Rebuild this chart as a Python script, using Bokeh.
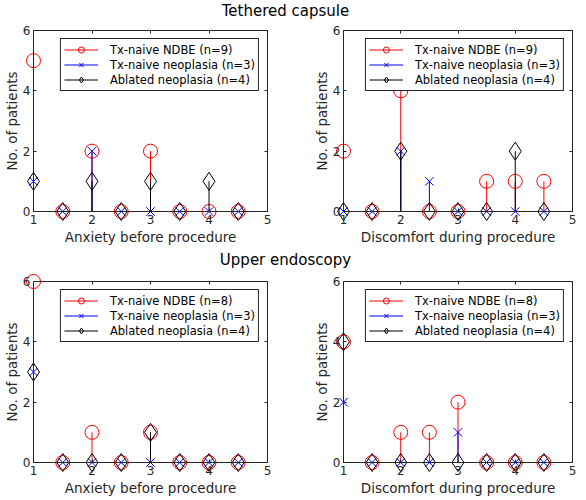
from bokeh.plotting import figure
from bokeh.models import Range1d, LinearAxis, Legend, LegendItem, FixedTicker, Label
from bokeh.layouts import column, row
from bokeh.embed import file_html
from bokeh.resources import INLINE

# ---------------- data ----------------
scores = [1, 1.5, 2, 2.5, 3, 3.5, 4, 4.5]
x_ticks = [1, 2, 3, 4, 5]
y_ticks = [0, 2, 4, 6]

section_titles = ["Tethered capsule", "Upper endoscopy"]
x_labels = ["Anxiety before procedure", "Discomfort during procedure"]
y_label = "No. of patients"

names_capsule = ["Tx-naive NDBE (n=9)", "Tx-naive neoplasia (n=3)", "Ablated neoplasia (n=4)"]
names_endoscopy = ["Tx-naive NDBE (n=8)", "Tx-naive neoplasia (n=3)", "Ablated neoplasia (n=4)"]

capsule_anxiety_ndbe = [5, 0, 2, 0, 2, 0, 0, 0]
capsule_anxiety_neo = [1, 0, 2, 0, 0, 0, 0, 0]
capsule_anxiety_abl = [1, 0, 1, 0, 1, 0, 1, 0]

capsule_discomfort_ndbe = [2, 0, 4, 0, 0, 1, 1, 1]
capsule_discomfort_neo = [0, 0, 2, 1, 0, 0, 0, 0]
capsule_discomfort_abl = [0, 0, 2, 0, 0, 0, 2, 0]

endo_anxiety_ndbe = [6, 0, 1, 0, 1, 0, 0, 0]
endo_anxiety_neo = [3, 0, 0, 0, 0, 0, 0, 0]
endo_anxiety_abl = [3, 0, 0, 0, 1, 0, 0, 0]

endo_discomfort_ndbe = [4, 0, 1, 1, 2, 0, 0, 0]
endo_discomfort_neo = [2, 0, 0, 0, 1, 0, 0, 0]
endo_discomfort_abl = [4, 0, 0, 0, 0, 0, 0, 0]

# ---------------- styles ----------------
FONT = "DejaVu Sans"
AX = "#262626"
series_style = [
    dict(color="#ff0000", marker="circle", size=14),
    dict(color="#0000ff", marker="x", size=12),
    dict(color="#000000", marker="diamond", size=18),
]


def panel(xlabel, names, series, b_left, b_right, b_top, b_bottom, fw):
    p = figure(frame_width=fw, frame_height=181,
               x_range=Range1d(1, 5), y_range=Range1d(0, 6),
               output_backend="svg", toolbar_location=None,
               min_border_left=b_left, min_border_right=b_right,
               min_border_top=b_top, min_border_bottom=b_bottom,
               background_fill_color="white", border_fill_color="white")
    p.xgrid.visible = False
    p.ygrid.visible = False
    p.outline_line_color = AX
    p.outline_line_alpha = 1
    p.outline_line_width = 1

    p.xaxis.ticker = FixedTicker(ticks=x_ticks)
    p.yaxis.ticker = FixedTicker(ticks=y_ticks)
    p.xaxis.axis_label = xlabel
    p.yaxis.axis_label = y_label
    for ax in (p.xaxis, p.yaxis):
        ax.axis_line_color = AX
        ax.major_tick_line_color = AX
        ax.major_tick_in = 3
        ax.major_tick_out = 0
        ax.minor_tick_line_color = None
        ax.major_label_text_font = FONT
        ax.major_label_text_font_size = "12px"
        ax.major_label_text_color = AX
        ax.axis_label_text_font = FONT
        ax.axis_label_text_font_size = "13.5px"
        ax.axis_label_text_font_style = "normal"
        ax.axis_label_text_color = AX
    p.xaxis.major_label_standoff = 3
    p.xaxis.axis_label_standoff = 2
    p.yaxis.major_label_standoff = 3
    p.yaxis.axis_label_standoff = 0

    for loc, tk in (("right", y_ticks), ("above", x_ticks)):
        a = LinearAxis(ticker=FixedTicker(ticks=tk), major_label_text_font_size="1px",
                       major_label_text_color=None,
                       major_label_standoff=0, major_tick_in=3, major_tick_out=0,
                       minor_tick_line_color=None, axis_line_color=AX,
                       major_tick_line_color=AX)
        p.add_layout(a, loc)

    items = []
    zeros = [0] * len(scores)
    for name, vals, st in zip(names, series, series_style):
        seg = p.segment(x0=scores, y0=zeros, x1=scores, y1=vals,
                        line_color=st["color"], line_width=1, level="guide")
        sc = p.scatter(x=scores, y=vals, marker=st["marker"], size=st["size"],
                       line_color=st["color"], fill_color=None, line_width=1,
                       level="guide")
        items.append(LegendItem(label=name, renderers=[seg, sc]))

    legend = Legend(items=items, location="top_right", margin=8, padding=3,
                    spacing=0, glyph_width=34, glyph_height=15, label_height=15,
                    label_standoff=12, label_text_font=FONT,
                    label_text_font_size="11.5px", label_text_color="black",
                    label_text_baseline="middle",
                    border_line_color=AX, border_line_alpha=1,
                    background_fill_color="white", background_fill_alpha=1)
    p.add_layout(legend)
    return p


def title_fig(text, h):
    f = figure(width=570, height=h, x_range=Range1d(0, 1), y_range=Range1d(0, 1),
               x_axis_type=None, y_axis_type=None, toolbar_location=None,
               output_backend="svg", min_border=0, outline_line_color=None,
               background_fill_color="white", border_fill_color="white")
    f.add_layout(Label(x=0.5, y=0.5, text=text, text_align="center",
                       text_baseline="middle", text_font=FONT,
                       text_font_size="15px", text_color="black"))
    return f


p1 = panel(x_labels[0], names_capsule,
           [capsule_anxiety_ndbe, capsule_anxiety_neo, capsule_anxiety_abl],
           27, 26, 9, 36, 234)
p2 = panel(x_labels[1], names_capsule,
           [capsule_discomfort_ndbe, capsule_discomfort_neo, capsule_discomfort_abl],
           50, 4, 9, 36, 229)
p3 = panel(x_labels[0], names_endoscopy,
           [endo_anxiety_ndbe, endo_anxiety_neo, endo_anxiety_abl],
           27, 26, 9, 35, 234)
p4 = panel(x_labels[1], names_endoscopy,
           [endo_discomfort_ndbe, endo_discomfort_neo, endo_discomfort_abl],
           50, 4, 9, 35, 229)

t1 = title_fig(section_titles[0], 21)
t2 = title_fig(section_titles[1], 25)

layout = column(t1, row(p1, p2), t2, row(p3, p4))

open("out.html", "w").write(file_html(layout, INLINE))
